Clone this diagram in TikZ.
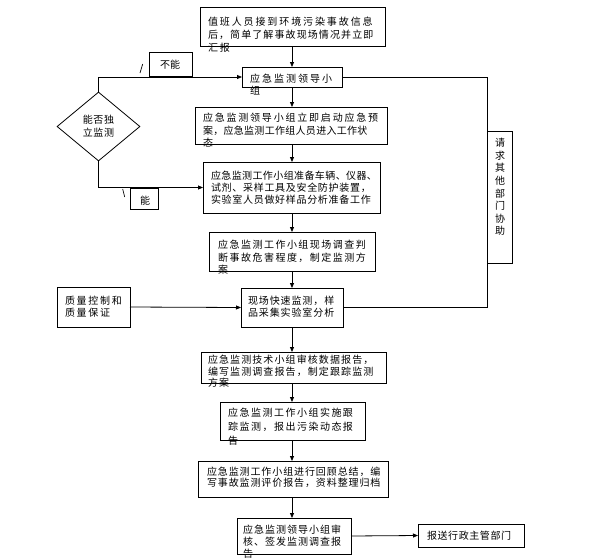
\documentclass[tikz,border=0pt]{standalone}
\usepackage{fontspec}
\setmainfont{Noto Sans CJK SC}
\usetikzlibrary{arrows.meta,shapes.geometric}
\newcommand\lsp[1]{\addfontfeature{LetterSpace=#1}}
\tikzset{
  box/.style={draw, line width=0.8pt, anchor=north west, inner sep=0pt, outer sep=0pt},
  txt/.style 2 args={anchor=north west, inner sep=0pt, outer sep=0pt, align=left,
    font=\fontsize{10}{#2}\selectfont\addfontfeature{LetterSpace=#1}},
  arr/.style={-{Triangle[length=5pt,width=4pt]}, line width=0.8pt},
  ln/.style={line width=0.8pt}
}
\begin{document}
\begin{tikzpicture}[x=1pt,y=-1pt]
\useasboundingbox (0,0) rectangle (590,558);
\coordinate (ax) at (292,0);
\coordinate (rc) at (487,0);
% boxes
\node[box, minimum width=185pt, minimum height=39pt] (b1) at (200,7) {};
\node[box, minimum width=100pt, minimum height=20pt] (b2) at (242,67) {};
\node[box, minimum width=192pt, minimum height=37pt] (b3) at (195,107) {};
\node[box, minimum width=177pt, minimum height=51pt] (b4) at (203,162) {};
\node[box, minimum width=166pt, minimum height=39pt] (b5) at (209,232) {};
\node[box, minimum width=102pt, minimum height=39pt] (bf) at (241,288) {};
\node[box, minimum width=73pt, minimum height=40pt] (qc) at (57,287) {};
\node[box, minimum width=185pt, minimum height=31pt] (b6) at (201,352) {};
\node[box, minimum width=145pt, minimum height=38pt] (b7) at (220,402) {};
\node[box, minimum width=190pt, minimum height=36pt] (b8) at (198,461) {};
\node[box, minimum width=114pt, minimum height=36pt] (b9) at (237,518) {};
\node[box, minimum width=106pt, minimum height=23pt] (b10) at (418,524) {};
\node[box, minimum width=25pt, minimum height=132pt] (req) at (487,131) {};
\node[box, minimum width=43pt, minimum height=24pt] (nb) at (149,52) {};
\node[box, minimum width=28pt, minimum height=21pt] (yb) at (130,188) {};
\node[draw, diamond, line width=0.8pt, inner sep=0pt, minimum width=83pt, minimum height=69pt,
  align=center, font=\fontsize{10}{13}\selectfont\addfontfeature{LetterSpace=7}] (dm) at (98.5,126.5) {能否独\\立监测};
% texts
\node[txt={19}{13}] (t1) at (208,16.5) {值班人员接到环境污染事故信息\\{\lsp{11}后，简单了解事故现场情况并立即}\\汇报};
\node[txt={20}{12}] (t2) at (250,74.5) {应急监测领导小\\组};
\node[txt={18}{12.5}] (t3) at (203,113.5) {应急监测领导小组立即启动应急预\\{\lsp{3}案，应急监测工作组人员进入工作状}\\态};
\node[txt={7}{12}] (t4) at (211,171.5) {{\lsp{4}应急监测工作小组准备车辆、仪器、}\\试剂、采样工具及安全防护装置，\\实验室人员做好样品分析准备工作};
\node[txt={15}{12.5}] (t5) at (218,240.5) {应急监测工作小组现场调查判\\断事故危害程度，制定监测方\\案};
\node[txt={9}{11.5}] (tf) at (248,296.5) {现场快速监测，样\\品采集实验室分析};
\node[txt={17}{12}] (tq) at (65,296.5) {质量控制和\\质量保证};
\node[txt={11}{11.5}] (t6) at (208,355.5) {应急监测技术小组审核数据报告，\\编写监测调查报告，制定跟踪监测\\方案};
\node[txt={15}{14}] (t7) at (228,408.5) {应急监测工作小组实施跟\\踪监测，报出污染动态报\\告};
\node[txt={9}{10.5}] (t8) at (207,467.5) {应急监测工作小组进行回顾总结，编\\写事故监测评价报告，资料整理归档};
\node[txt={10}{12}] (t9) at (243,525.5) {应急监测领导小组审\\核、签发监测调查报\\告};
\node[txt={6}{12}] (t10) at (427,531.5) {报送行政主管部门};
\node[txt={0}{12}] (tn) at (160,60.5) {不能};
\node[txt={0}{12}] (ty) at (140,196.5) {能};
\node[anchor=center, inner sep=0pt, align=center, font=\fontsize{10}{12.6}\selectfont] (tr) at (500,187) {请\\求\\其\\他\\部\\门\\协\\助};
% connectors
\draw[arr] (b1.south -| ax) -- (b2.north -| ax);
\draw[arr] (b2.south -| ax) -- (b3.north -| ax);
\draw[arr] (b3.south -| ax) -- (b4.north -| ax);
\draw[arr] (b4.south -| ax) -- (b5.north -| ax);
\draw[arr] (b5.south -| ax) -- (bf.north -| ax);
\draw[arr] (bf.south -| ax) -- (b6.north -| ax);
\draw[arr] (b6.south -| ax) -- (b7.north -| ax);
\draw[arr] (b7.south -| ax) -- (b8.north -| ax);
\draw[arr] (b8.south -| ax) -- (b9.north -| ax);
\draw[arr] (b9.east) -- (b10.west);
\draw[arr] (qc.east) -- (bf.west);
\draw[arr] (dm.north) |- (b2.west);
\draw[arr] (dm.south) |- (b4.west);
\draw[ln] (b2.east) -- (b2.east -| rc) -- (bf.east -| rc) -- (bf.east);
% tick marks
\coordinate (s1a) at (142.7,64);
\coordinate (s1b) at (140,73);
\coordinate (s2a) at (122.7,189);
\coordinate (s2b) at (124.7,197);
\draw[line width=0.7pt] (s1a) -- (s1b);
\draw[line width=0.7pt] (s2a) -- (s2b);
\end{tikzpicture}
\end{document}
